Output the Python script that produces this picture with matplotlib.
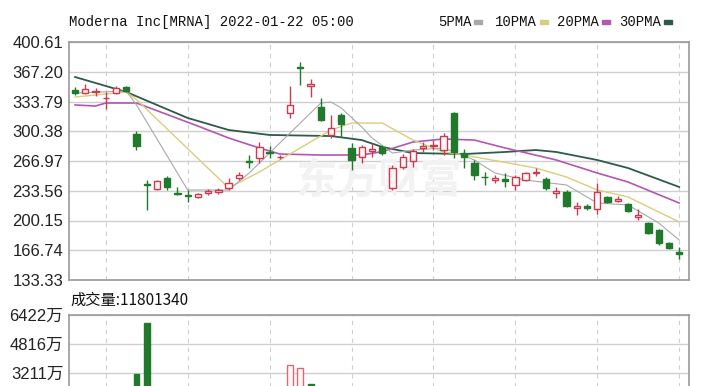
#!/usr/bin/env python3
import matplotlib
matplotlib.use("Agg")
import matplotlib.pyplot as plt
from matplotlib.patches import Rectangle

# daily candles, oldest first (price in USD)
open_ = [346.7, 343.3, 345.0, 337.2, 343.3, 350.1, 297.3, 241.0, 235.5, 248.0,
         231.0, 228.5, 226.6, 231.0, 232.0, 236.7, 247.9, 266.5, 270.3, 277.5,
         271.0, 320.9, 372.0, 351.5, 327.6, 296.2, 318.6, 281.6, 271.5, 278.5,
         282.7, 236.7, 260.2, 267.0, 281.6, 284.0, 279.3, 320.9, 276.0, 264.7,
         249.5, 246.0, 246.5, 240.0, 245.6, 254.0, 246.8, 231.5, 232.2, 214.5,
         216.4, 213.1, 226.6, 222.5, 218.7, 204.5, 197.4, 189.5, 174.9, 164.5]
high = [350.0, 353.4, 348.9, 344.5, 351.2, 351.5, 300.6, 245.6, 246.0, 250.0,
        237.8, 234.4, 231.0, 236.0, 237.0, 247.9, 254.6, 273.7, 288.3, 283.8,
        274.0, 351.2, 378.2, 359.0, 337.7, 318.6, 321.0, 287.2, 284.9, 287.2,
        285.0, 262.5, 275.0, 281.0, 288.3, 290.5, 298.4, 322.0, 280.0, 268.1,
        254.6, 251.3, 253.5, 251.0, 255.0, 259.1, 249.0, 237.8, 234.0, 220.9,
        218.6, 242.3, 228.0, 227.7, 220.0, 213.0, 199.0, 191.0, 176.0, 170.4]
low = [341.0, 342.2, 340.0, 325.4, 342.2, 344.5, 279.3, 211.9, 234.0, 234.4,
       229.0, 221.0, 225.0, 229.0, 230.0, 234.4, 245.6, 259.1, 264.7, 270.3,
       269.0, 315.3, 352.3, 338.8, 312.0, 292.8, 293.9, 256.9, 264.7, 271.5,
       274.0, 234.4, 258.0, 260.2, 277.1, 279.3, 273.7, 270.3, 259.1, 245.6,
       240.0, 242.3, 237.8, 234.4, 244.0, 250.0, 234.4, 225.5, 215.0, 206.3,
       212.0, 207.5, 220.0, 221.0, 210.0, 200.7, 185.0, 173.0, 168.0, 156.9]
close = [343.3, 347.8, 346.1, 338.2, 348.9, 345.6, 283.8, 239.5, 244.5, 237.8,
         229.7, 227.5, 230.0, 233.0, 234.0, 242.3, 251.3, 265.5, 282.7, 276.5,
         272.0, 329.9, 371.0, 353.0, 313.0, 304.0, 308.5, 268.1, 282.7, 280.0,
         276.0, 259.1, 271.5, 278.2, 283.8, 285.0, 295.0, 277.1, 271.0, 251.3,
         248.5, 247.5, 245.0, 249.0, 253.5, 255.0, 236.7, 233.0, 216.4, 216.0,
         213.9, 232.2, 220.9, 223.8, 210.8, 206.0, 186.1, 174.9, 169.3, 162.5]
# volume in 万 shares
volume = [1350, 1100, 980, 1420, 1150, 1600, 3150, 5980, 2100, 1650,
          1500, 1380, 1050, 1020, 950, 1300, 1280, 1700, 2050, 1600,
          1250, 3650, 3490, 2600, 2300, 2100, 1900, 2200, 1650, 1400,
          1300, 2150, 1800, 1500, 1200, 1150, 1600, 2400, 1700, 1550,
          1100, 900, 1000, 1250, 1150, 1050, 1300, 1000, 1450, 1100,
          1000, 1600, 1050, 900, 1150, 1300, 1500, 1600, 1250, 1180.134]

# moving averages (candle index, value)
ma5_idx = [0, 5, 6, 11, 15, 17, 21, 24, 25, 26, 28, 29, 31, 33, 36, 39, 41, 44, 48, 51, 54, 57, 59]
ma5_val = [343.3, 345.6, 330.0, 234.4, 234.4, 253.5, 298.4, 332.1, 333.2, 326.5, 305.1, 292.8,
           275.9, 279.3, 281.6, 268.1, 253.5, 245.6, 240.0, 219.8, 217.6, 197.4, 178.2]
ma10_idx = [0, 5, 6, 15, 18, 22, 25, 27, 30, 33, 36, 38, 45, 48, 51, 54, 59]
ma10_val = [338.8, 344.5, 336.0, 236.7, 254.6, 281.6, 301.8, 309.6, 309.6, 290.5, 277.1,
            273.7, 259.1, 249.0, 234.4, 226.6, 198.5]
ma20_idx = [0, 2, 3, 6, 12, 15, 18, 20, 24, 28, 30, 33, 36, 39, 42, 47, 51, 54, 59]
ma20_val = [329.9, 328.7, 332.1, 332.1, 306.2, 292.8, 281.6, 274.8, 273.7, 273.7, 277.5,
            288.3, 291.7, 290.5, 281.6, 268.1, 253.5, 243.4, 219.8]
ma30_idx = [0, 5, 11, 15, 19, 25, 28, 30, 33, 38, 42, 45, 47, 51, 54, 59]
ma30_val = [361.3, 344.5, 315.3, 301.8, 296.2, 295.0, 290.5, 282.7, 275.9, 274.8, 277.1,
            279.3, 277.1, 268.1, 259.1, 237.8]

price_ticks = [133.33, 166.74, 200.15, 233.56, 266.97, 300.38, 333.79, 367.20, 400.61]
vol_grid = [0, 1605, 3211, 4816, 6422]
vol_ticks = [3211, 4816, 6422]
vol_labels = ["3211万", "4816万", "6422万"]
legend_names = ["5PMA", "10PMA", "20PMA", "30PMA"]

UP = "#cc3a4e"
DOWN = "#1f7a2c"
MA_COLORS = ["#a9a9a9", "#d8ce7c", "#b257b2", "#2f5a48"]
GRID = "#cfcfcf"
W, H = 720, 386


def fx(px):
    return px / W


def fy(py):
    return 1 - py / H


def style_axes(ax, n):
    ax.set_xlim(-0.59, n - 0.04)
    for s in ax.spines.values():
        s.set_color("#9a9a9a")
        s.set_linewidth(1.2)
    ax.set_xticks([])
    for i in range(3, n, 8):
        ax.axvline(i, color=GRID, lw=0.8, ls=(0, (4, 4)), zorder=0)
    ax.tick_params(axis="y", length=0, pad=4, labelsize=12, labelcolor="#222222")


def main():
    plt.rcParams["font.family"] = ["Liberation Sans", "Noto Sans CJK SC"]
    fig = plt.figure(figsize=(7.2, 3.86), dpi=100)
    n = len(close)
    xs = list(range(n))

    ax = fig.add_axes([fx(69), fy(280), fx(689) - fx(69), fy(42) - fy(280)])
    style_axes(ax, n)
    ax.set_ylim(price_ticks[0], price_ticks[-1])
    ax.set_yticks(price_ticks)
    ax.set_yticklabels([f"{t:.2f}" for t in price_ticks])
    for t in price_ticks:
        ax.axhline(t, color=GRID, lw=1.0, zorder=0)

    ax.text(0.5, 0.42, "东方财富", transform=ax.transAxes, fontsize=30,
            color="#f2f2f2", ha="center", va="center", family=["Noto Sans CJK SC"],
            fontweight="bold", zorder=0)

    for idx, val, c, lw in zip([ma30_idx, ma20_idx, ma10_idx, ma5_idx],
                               [ma30_val, ma20_val, ma10_val, ma5_val],
                               MA_COLORS[::-1], [1.3, 1.2, 1.0, 0.8]):
        ax.plot(idx, val, color=c, lw=lw, zorder=2)

    bw = 0.62
    for i in xs:
        o, h, l, c = open_[i], high[i], low[i], close[i]
        lo, hi = min(o, c), max(o, c)
        if c >= o:
            ax.vlines(i, l, lo, color=UP, lw=1.0, zorder=3)
            ax.vlines(i, hi, h, color=UP, lw=1.0, zorder=3)
            ax.bar(i, max(hi - lo, 0.3), bottom=lo, width=bw, facecolor="#fff6f7",
                   edgecolor=UP, lw=1.0, zorder=4)
        else:
            ax.vlines(i, l, h, color=DOWN, lw=1.0, zorder=3)
            ax.bar(i, max(hi - lo, 0.3), bottom=lo, width=bw, facecolor=DOWN,
                   edgecolor=DOWN, lw=1.0, zorder=4)

    # volume panel, runs past the bottom of the picture
    vax = fig.add_axes([fx(69), fy(431), fx(689) - fx(69), fy(315) - fy(431)])
    style_axes(vax, n)
    vax.set_ylim(0, vol_grid[-1])
    vax.set_yticks(vol_ticks)
    vax.set_yticklabels(vol_labels)
    for t in vol_grid:
        vax.axhline(t, color=GRID, lw=1.0, zorder=0)
    for i in xs:
        # volume bars follow the change against the previous close
        prev = close[i - 1] if i > 0 else open_[i]
        if close[i] >= prev:
            vax.bar(i, volume[i], width=0.58, facecolor="#fff6f7", edgecolor="#d66b7a",
                    lw=1.0, zorder=3)
        else:
            vax.bar(i, volume[i], width=0.58, facecolor=DOWN, edgecolor=DOWN, lw=1.0, zorder=3)

    fig.text(fx(70), fy(300), f"成交量:{round(volume[-1] * 10000)}", fontsize=11,
             family=["Noto Sans CJK SC"], va="center", ha="left", color="#111111")

    fig.text(fx(69), fy(22), "Moderna Inc[MRNA] 2022-01-22 05:00", fontsize=10,
             family="Liberation Mono", va="center", ha="left", color="#111111")

    lx = [438, 495, 557, 619]
    for name, x0, c in zip(legend_names, lx, MA_COLORS):
        fig.text(fx(x0), fy(22), name, fontsize=10, family="Liberation Mono",
                 va="center", ha="left", color="#111111")
        wpx = len(name) * 8.3
        fig.patches.append(Rectangle((fx(x0 + wpx + 3), fy(24)), 8 / W, 4 / H,
                                     transform=fig.transFigure, color=c, figure=fig))

    fig.savefig("out.png", dpi=100)


if __name__ == "__main__":
    main()
